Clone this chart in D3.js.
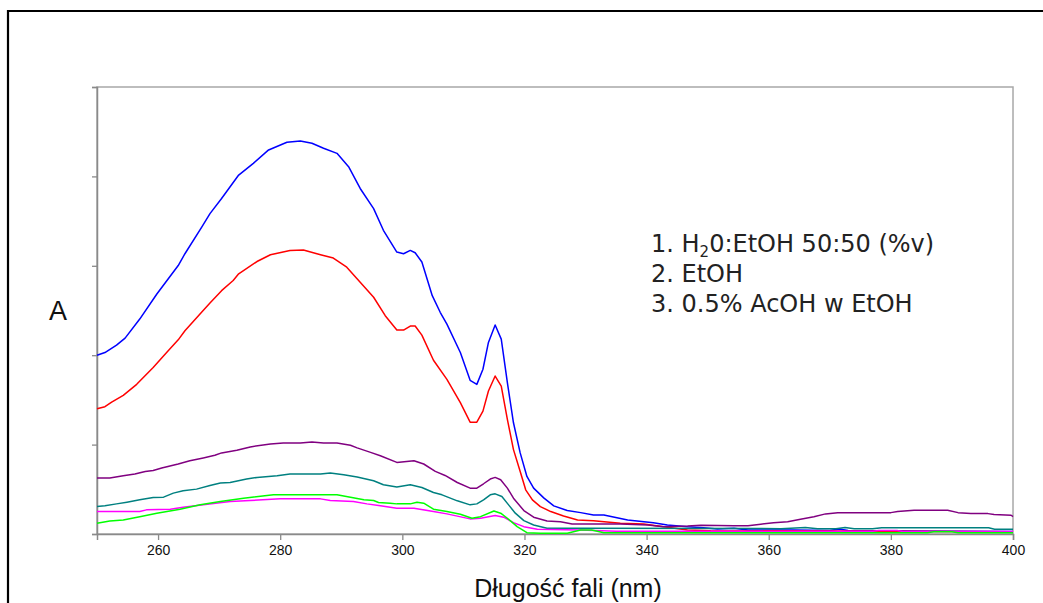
<!DOCTYPE html>
<html><head><meta charset="utf-8">
<script src="https://cdn.jsdelivr.net/npm/d3@7"></script>
<style>body{margin:0;background:#fff}svg{display:block}</style>
</head><body>
<svg id="chart" width="1043" height="603"></svg>
<script>
// ---- data (wavelength nm, absorbance units) ----
const xTicks = [260, 280, 300, 320, 340, 360, 380, 400];
const yTicks = [0, 1, 2, 3, 4, 5];
const legendLines = ["1. H|2|0:EtOH 50:50 (%v)", "2. EtOH", "3. 0.5% AcOH w EtOH"];
const xTitle = "Długość fali (nm)";
const yTitle = "A";

const blue = [[250.0,2.000],[251.3,2.030],[253.2,2.112],[254.6,2.191],[257.0,2.404],[259.8,2.685],[263.3,3.003],[264.4,3.135],[267.2,3.438],[268.5,3.584],[270.4,3.753],[273.2,4.015],[275.6,4.146],[278.1,4.296],[281.1,4.382],[283.3,4.397],[285.2,4.371],[287.1,4.315],[289.3,4.258],[291.2,4.109],[293.1,3.865],[295.3,3.640],[296.9,3.397],[299.1,3.154],[300.2,3.135],[301.3,3.172],[302.1,3.146],[303.2,3.042],[304.9,2.666],[306.2,2.480],[307.3,2.348],[309.5,2.030],[311.1,1.719],[312.2,1.674],[313.2,1.843],[314.1,2.143],[315.2,2.337],[316.2,2.180],[317.2,1.693],[318.2,1.244],[319.3,0.907],[320.4,0.644],[321.5,0.513],[323.2,0.401],[324.8,0.315],[327.0,0.262],[329.2,0.239],[331.3,0.213],[333.0,0.213],[336.9,0.157],[341.1,0.127],[343.4,0.101],[346.7,0.082],[349.3,0.071],[351.6,0.056],[354.3,0.064],[356.6,0.045],[364.1,0.045],[370.0,0.040],[371.5,0.055],[373.0,0.040],[384.0,0.034],[400.0,0.028]];
const red = [[250.0,1.401],[251.3,1.424],[252.4,1.475],[254.3,1.551],[256.5,1.674],[259.2,1.862],[261.4,2.030],[263.3,2.172],[264.4,2.273],[267.2,2.487],[268.5,2.584],[270.4,2.722],[272.3,2.835],[273.2,2.910],[276.2,3.048],[278.4,3.124],[281.6,3.172],[283.8,3.176],[286.6,3.124],[288.7,3.087],[290.9,2.985],[293.1,2.817],[295.3,2.648],[297.2,2.442],[299.1,2.281],[300.2,2.281],[301.3,2.326],[302.1,2.326],[303.2,2.225],[305.1,1.944],[307.3,1.730],[309.5,1.469],[311.1,1.251],[312.2,1.251],[313.2,1.374],[314.1,1.599],[315.2,1.767],[316.2,1.655],[317.2,1.281],[318.2,0.944],[319.3,0.700],[320.2,0.494],[321.3,0.382],[322.6,0.307],[324.3,0.251],[326.4,0.202],[328.7,0.157],[331.3,0.149],[335.7,0.120],[339.5,0.112],[343.4,0.075],[346.7,0.045],[350.5,0.037],[380.0,0.030],[400.0,0.026]];
const purple = [[250.0,0.626],[252.1,0.626],[254.3,0.652],[256.2,0.671],[257.9,0.700],[259.2,0.711],[260.6,0.738],[263.3,0.783],[265.2,0.820],[267.4,0.851],[269.3,0.880],[270.4,0.907],[272.9,0.936],[275.1,0.974],[278.4,1.008],[280.5,1.019],[283.3,1.019],[285.2,1.030],[287.1,1.019],[289.3,1.019],[291.5,0.992],[292.6,0.963],[294.8,0.913],[296.4,0.876],[299.1,0.801],[301.9,0.820],[303.5,0.783],[305.4,0.700],[307.0,0.655],[309.0,0.576],[311.1,0.513],[312.2,0.513],[313.3,0.562],[314.4,0.615],[315.2,0.633],[316.1,0.607],[317.2,0.513],[318.2,0.401],[319.9,0.262],[321.5,0.188],[323.7,0.146],[325.9,0.138],[327.8,0.112],[331.3,0.112],[335.7,0.112],[340.2,0.101],[342.8,0.082],[346.7,0.090],[348.9,0.098],[354.3,0.093],[356.6,0.093],[358.7,0.109],[360.8,0.127],[363.1,0.138],[365.2,0.165],[367.4,0.194],[369.3,0.225],[371.3,0.239],[380.0,0.239],[381.1,0.251],[383.8,0.266],[389.3,0.266],[391.0,0.239],[393.1,0.228],[395.9,0.228],[396.9,0.217],[399.7,0.210],[400.0,0.194]];
const teal = [[250.0,0.307],[251.3,0.315],[253.2,0.337],[254.9,0.356],[257.0,0.382],[259.2,0.408],[260.9,0.412],[262.5,0.457],[264.1,0.483],[266.3,0.502],[268.5,0.543],[270.2,0.570],[271.8,0.576],[274.5,0.615],[276.2,0.633],[279.5,0.652],[281.6,0.671],[286.6,0.671],[288.2,0.682],[290.4,0.663],[292.6,0.637],[295.3,0.596],[296.9,0.551],[299.1,0.525],[301.3,0.551],[303.2,0.520],[305.1,0.464],[306.5,0.438],[309.0,0.371],[311.1,0.326],[312.2,0.337],[313.3,0.382],[314.4,0.438],[315.2,0.449],[316.3,0.419],[317.4,0.326],[318.5,0.233],[319.9,0.149],[321.5,0.101],[323.7,0.064],[329.2,0.064],[362.0,0.060],[366.0,0.073],[368.0,0.058],[371.0,0.058],[372.5,0.073],[374.0,0.058],[377.0,0.058],[378.5,0.071],[396.0,0.071],[397.0,0.053],[400.0,0.053]];
const green = [[250.0,0.120],[252.1,0.146],[254.3,0.157],[257.0,0.194],[259.8,0.233],[263.6,0.278],[266.9,0.326],[270.2,0.363],[274.0,0.401],[278.9,0.438],[289.3,0.438],[291.5,0.412],[293.7,0.382],[295.3,0.374],[296.1,0.352],[298.0,0.345],[299.1,0.337],[301.3,0.337],[302.4,0.356],[303.5,0.345],[305.1,0.278],[307.3,0.251],[309.5,0.221],[311.4,0.176],[312.8,0.194],[315.0,0.258],[316.1,0.233],[317.2,0.176],[318.8,0.082],[320.4,0.015],[322.6,0.008],[327.0,0.008],[329.2,0.045],[331.0,0.045],[333.0,0.015],[386.0,0.015],[387.0,0.026],[390.0,0.026],[391.0,0.015],[400.0,0.015]];
const magenta = [[250.0,0.251],[257.0,0.251],[258.1,0.270],[262.0,0.278],[264.1,0.300],[267.4,0.326],[271.8,0.363],[275.1,0.374],[280.0,0.393],[286.6,0.393],[288.2,0.374],[292.0,0.363],[294.2,0.337],[296.4,0.315],[299.1,0.289],[301.9,0.289],[305.1,0.251],[307.3,0.225],[311.1,0.169],[312.8,0.176],[315.2,0.206],[316.6,0.188],[318.2,0.127],[319.9,0.082],[322.1,0.053],[329.2,0.045],[335.0,0.030],[377.0,0.030],[378.0,0.040],[381.0,0.040],[382.0,0.028],[400.0,0.028]];

const seriesNames = ["blue", "red", "purple", "teal", "magenta", "green"];
const seriesData = [blue, red, purple, teal, magenta, green];
const seriesColors = ["#0000ff", "#ff0000", "#800080", "#008080", "#ff00ff", "#00ff00"];

// ---- layout ----
const svg = d3.select("#chart");
const x = d3.scaleLinear().domain([250, 400]).range([97, 1013]);
const y = d3.scaleLinear().domain([0, 5]).range([534, 87]);

// outer frame
svg.append("path").attr("d", "M8,603 L8,11 L1043,11")
  .attr("fill", "none").attr("stroke", "#000").attr("stroke-width", 2.2);

// plot frame
svg.append("rect").attr("x", 97).attr("y", 87).attr("width", 916).attr("height", 447)
  .attr("fill", "none").attr("stroke", "#a8a8a8").attr("stroke-width", 1.5);

// axes
const xAxis = svg.append("g").attr("transform", "translate(0,534)")
  .call(d3.axisBottom(x).tickValues(xTicks).tickSize(6).tickPadding(5).tickFormat(d3.format("d")));
const yAxis = svg.append("g").attr("transform", "translate(97,0)")
  .call(d3.axisLeft(y).tickValues(yTicks).tickSize(5).tickFormat(""));
[xAxis, yAxis].forEach(a => {
  a.select(".domain").attr("stroke", "#8a8a8a").attr("stroke-width", 1.5);
  a.selectAll(".tick line").attr("stroke", "#8a8a8a").attr("stroke-width", 1.3);
  a.selectAll("text").attr("font-family", "Arial, 'Liberation Sans', sans-serif")
    .attr("font-size", 14).attr("fill", "#111");
});

// lines
const line = d3.line().x(d => x(d[0])).y(d => y(d[1]));
const g = svg.append("g");
seriesData.forEach((s, i) => {
  g.append("path").datum(s).attr("d", line)
    .attr("fill", "none").attr("stroke", seriesColors[i])
    .attr("stroke-width", 1.5).attr("stroke-linejoin", "round");
});

// titles
svg.append("text").attr("x", 568).attr("y", 597).attr("text-anchor", "middle")
  .attr("font-family", "Arial, 'Liberation Sans', sans-serif").attr("font-size", 25).attr("fill", "#111")
  .text(xTitle);
svg.append("text").attr("x", 58).attr("y", 320).attr("text-anchor", "middle")
  .attr("font-family", "Arial, 'Liberation Sans', sans-serif").attr("font-size", 27).attr("fill", "#111")
  .text(yTitle);

// legend text
const leg = svg.append("g").attr("font-family", "'DejaVu Sans', Verdana, sans-serif")
  .attr("font-size", 24).attr("fill", "#222");
legendLines.forEach((t, i) => {
  const txt = leg.append("text").attr("x", 651).attr("y", 252 + i * 30);
  const parts = t.split("|");
  if (parts.length === 3) {
    txt.append("tspan").text(parts[0]);
    txt.append("tspan").attr("font-size", 15).attr("dy", 5).text(parts[1]);
    txt.append("tspan").attr("dy", -5).text(parts[2]);
  } else {
    txt.text(t);
  }
});
</script>
</body></html>
